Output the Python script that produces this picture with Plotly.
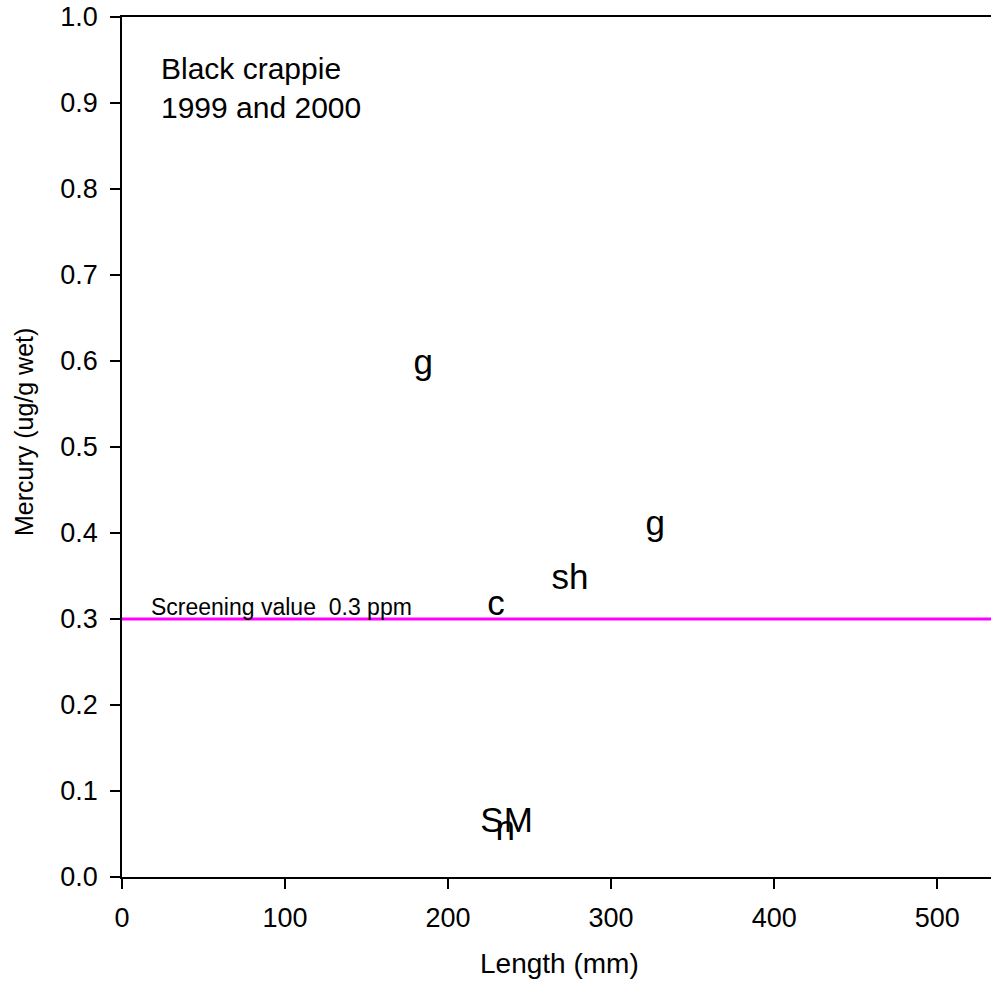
import plotly.graph_objects as go

# Black crappie mercury samples: length (mm), mercury (ug/g wet), site code
lengths = [184.7, 327.0, 274.8, 229.4, 235.9, 235.0]
mercury = [0.595, 0.408, 0.345, 0.315, 0.063, 0.0535]
site_codes = ["g", "g", "sh", "c", "SM", "n"]

screening_value = 0.3
x_ticks = [0, 100, 200, 300, 400, 500]
y_ticks = [0.0, 0.1, 0.2, 0.3, 0.4, 0.5, 0.6, 0.7, 0.8, 0.9, 1.0]

FONT = "Liberation Sans, Arial, sans-serif"

fig = go.Figure()

fig.add_trace(go.Scatter(
    x=lengths, y=mercury, text=site_codes,
    mode="text", textposition="middle center",
    textfont=dict(family=FONT, size=35, color="black"),
    showlegend=False, hoverinfo="x+y+text",
))

# screening value line
fig.add_shape(type="line", xref="paper", x0=0, x1=1, yref="y",
              y0=screening_value, y1=screening_value,
              line=dict(color="#FF00FF", width=3))

fig.add_annotation(x=16.5, y=screening_value, xref="x", yref="y",
                   text="Screening value  0.3 ppm", showarrow=False,
                   xanchor="left", yanchor="bottom", yshift=-3,
                   font=dict(family=FONT, size=23, color="black"))

fig.add_annotation(x=22.5, y=0.917, xref="x", yref="y",
                   text="Black crappie<br>1999 and 2000", showarrow=False,
                   xanchor="left", yanchor="middle", align="left",
                   font=dict(family=FONT, size=30, color="black"))

# axis titles
fig.add_annotation(x=0.503, y=-0.100, xref="paper", yref="paper",
                   text="Length (mm)", showarrow=False,
                   xanchor="center", yanchor="middle",
                   font=dict(family=FONT, size=28, color="black"))
fig.add_annotation(x=-0.112, y=0.517, xref="paper", yref="paper",
                   text="Mercury (ug/g wet)", showarrow=False, textangle=-90,
                   xanchor="center", yanchor="middle",
                   font=dict(family=FONT, size=25, color="black"))

axis_common = dict(
    showgrid=False, zeroline=False, showline=True,
    linecolor="black", linewidth=1.5,
    ticks="outside", ticklen=10, tickwidth=1.5, tickcolor="black",
    tickfont=dict(family=FONT, size=27, color="black"),
)

fig.update_xaxes(range=[0, 533], tickvals=x_ticks, mirror=True,
                 ticklabelstandoff=6, **axis_common)
fig.update_yaxes(range=[0, 1.0], tickvals=y_ticks, tickformat=".1f",
                 mirror=False, ticklabelstandoff=7, **axis_common)

fig.update_layout(
    width=991, height=988,
    margin=dict(l=122, r=0, t=17, b=111),
    plot_bgcolor="white", paper_bgcolor="white",
    font=dict(family=FONT, color="black"),
)

fig.write_html("out.html")
